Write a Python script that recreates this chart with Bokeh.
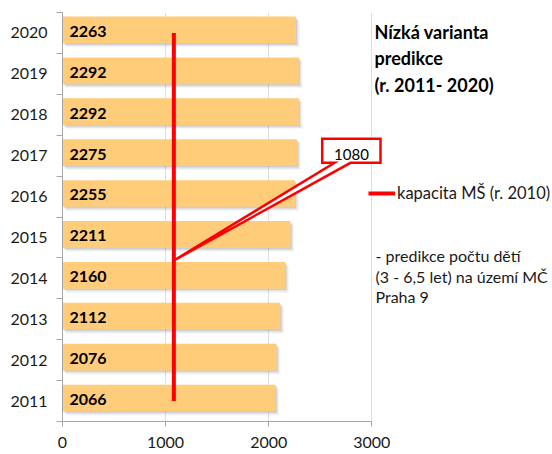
from bokeh.plotting import figure
from bokeh.models import Range1d, FixedTicker, Label, Legend, LegendItem, ColumnDataSource
from bokeh.transform import dodge
from bokeh.core.properties import value
from bokeh.embed import file_html
from bokeh.resources import INLINE

# ---- data ----
years = [2011, 2012, 2013, 2014, 2015, 2016, 2017, 2018, 2019, 2020]
counts = [2066, 2076, 2112, 2160, 2211, 2255, 2275, 2292, 2292, 2263]
capacity = 1080
x_ticks = [0, 1000, 2000, 3000]
title_lines = ["Nízká varianta", "predikce", "(r. 2011- 2020)"]
legend_label = "kapacita MŠ (r. 2010)"
note_lines = ["- predikce počtu dětí", "(3 - 6,5 let) na území MČ", "Praha 9"]

# ---- layout (figure pixels) ----
W, H = 552, 454
LEFT, TOP, BOTTOM = 62, 12, 33
FRAME_W = W - LEFT
FRAME_H = H - TOP - BOTTOM
PXK = 0.1031                    # pixels per unit on the x axis
X_END = FRAME_W / PXK
PY_BOT = TOP + FRAME_H
PY_CAT = FRAME_H / len(years)


def sx(px):
    return (px - LEFT) / PXK


def sy(py):
    return (years[0] - 0.5) + (PY_BOT - py) / PY_CAT


FONT = "Lato"
GRAY = "#a6a6a6"
RED = "#ff0000"

src = ColumnDataSource(dict(year=years, count=counts, label=[str(c) for c in counts]))

p = figure(width=W, height=H, output_backend="svg", toolbar_location=None,
           x_range=Range1d(0, X_END), y_range=Range1d(years[0] - 0.5, years[-1] + 0.5),
           min_border_left=LEFT, min_border_right=0, min_border_top=TOP, min_border_bottom=BOTTOM)
p.outline_line_color = None
p.background_fill_color = "white"
p.border_fill_color = "white"

# x axis
p.xaxis.bounds = (x_ticks[0], x_ticks[-1])
p.xaxis.ticker = FixedTicker(ticks=x_ticks)
p.xaxis.axis_line_color = GRAY
p.xaxis.major_tick_line_color = GRAY
p.xaxis.major_tick_out = 5
p.xaxis.major_tick_in = 0
p.xaxis.minor_tick_line_color = None
p.xaxis.major_label_standoff = 10
p.xaxis.major_label_text_font = FONT
p.xaxis.major_label_text_font_size = "16px"
p.xaxis.major_label_text_color = "#1a1a1a"

# y axis: labels at years, ticks between categories
p.yaxis.ticker = FixedTicker(ticks=years, minor_ticks=[y - 0.5 for y in years] + [years[-1] + 0.5])
p.yaxis.axis_line_color = GRAY
p.yaxis.major_tick_out = 0
p.yaxis.major_tick_in = 0
p.yaxis.minor_tick_out = 6
p.yaxis.minor_tick_in = 0
p.yaxis.minor_tick_line_color = GRAY
p.yaxis.major_label_standoff = 9
p.yaxis.major_label_text_font = FONT
p.yaxis.major_label_text_font_size = "16px"
p.yaxis.major_label_text_color = "#1a1a1a"

p.xgrid.ticker = FixedTicker(ticks=x_ticks[1:])
p.xgrid.grid_line_color = "#dedede"
p.ygrid.visible = False

# bar shadows
for dx, dy, a in [(12, 0.035, 0.22), (25, 0.07, 0.14), (38, 0.10, 0.07)]:
    p.hbar(y=dodge("year", 0.075 - dy, range=p.y_range), left=dx,
           right=dodge("count", dx, range=p.x_range), height=0.653, source=src,
           fill_color="#7a7a7a", fill_alpha=a, line_color=None)

# bars
p.hbar(y=dodge("year", 0.075, range=p.y_range), left=0, right="count", height=0.653,
       source=src, fill_color="#ffcc7a", line_color=None)

# value labels
p.text(x=0, y=dodge("year", 0.04, range=p.y_range), text="label", source=src,
       x_offset=7, text_baseline="middle", text_align="left",
       text_font=value(FONT), text_font_style="bold", text_font_size="16px",
       text_color="#000000")

# capacity line
cap = p.line(x=[capacity, capacity], y=[years[0], years[-1]], line_color=RED, line_width=4)

# callout
bl, br, bt, bb = sx(321.7), sx(380), sy(138.3), sy(162.3)
tip_y = sy(260)
p.patch(x=[bl, br, br, sx(350), capacity, sx(334), bl],
        y=[bt, bt, bb, bb, tip_y, bb, bb],
        fill_color="white", line_color=RED, line_width=2.5, line_join="miter")
p.add_layout(Label(x=sx(351), y=sy(154), text=str(capacity), text_align="center",
                   text_baseline="middle", text_font=FONT, text_font_size="15px",
                   text_color="#000000"))

# title
for i, t in enumerate(title_lines):
    p.add_layout(Label(x=sx(374), y=sy(31 + 26.5 * i), text=t, text_baseline="middle",
                       text_font=FONT, text_font_style="bold", text_font_size="18px",
                       text_color="#000000"))

# note
for i, t in enumerate(note_lines):
    p.add_layout(Label(x=sx(375), y=sy(255 + 20.5 * i), text=t, text_baseline="middle",
                       text_font=FONT, text_font_size="16px", text_color="#1a1a1a"))

# legend
legend = Legend(items=[LegendItem(label=legend_label, renderers=[cap])],
                location=(306, PY_BOT - 203), border_line_color=None, background_fill_alpha=0,
                padding=0, margin=0, glyph_width=27, glyph_height=20, label_height=20,
                label_standoff=2, label_text_font=FONT, label_text_font_size="16.5px",
                label_text_color="#1a1a1a")
p.add_layout(legend)

open("out.html", "w").write(file_html(p, INLINE))
